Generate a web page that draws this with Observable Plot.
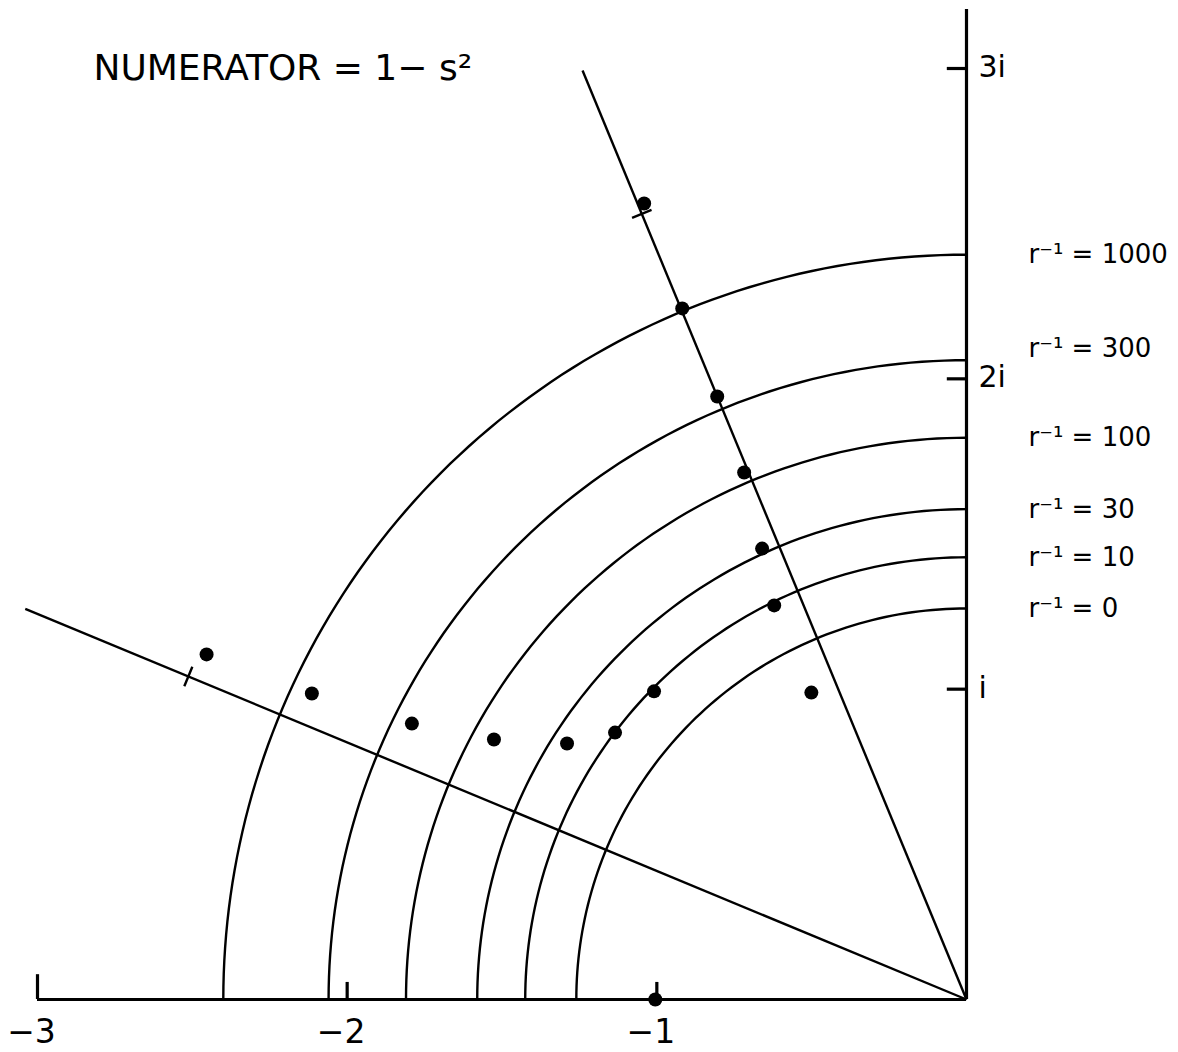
<!DOCTYPE html>
<html>
<head>
<meta charset="utf-8">
<script src="https://cdn.jsdelivr.net/npm/d3@7"></script>
<script src="https://cdn.jsdelivr.net/npm/@observablehq/plot@0.6"></script>
<style>
  body { margin: 0; background: #fff; }
</style>
</head>
<body>
<div id="chart"></div>
<script>
// Root locus in the s-plane for a numerator of 1 − s²

const title = "NUMERATOR = 1− s²";

// circles of constant r⁻¹ (radius in s-plane units)
const arcLabels = ["r⁻¹ = 0", "r⁻¹ = 10", "r⁻¹ = 30", "r⁻¹ = 100", "r⁻¹ = 300", "r⁻¹ = 1000"];
const arcRadii  = [1.26, 1.425, 1.58, 1.81, 2.06, 2.40];

// straight loci from the origin, angle in degrees from the positive real axis
const rayAngles  = [112.5, 157.5];
const rayLengths = [3.24, 3.29];
const rayMarkAt  = [2.74, 2.72];

// computed roots: real and imaginary parts
const rootRe = [-1.041, -0.918, -0.805, -0.718, -0.660, -0.621, -1.009, -1.135, -1.290, -1.526, -1.791, -2.114, -2.454, -0.501, -1.005];
const rootIm = [ 2.565,  2.227,  1.943,  1.698,  1.453,  1.270,  0.993,  0.860,  0.825,  0.838,  0.889,  0.986,  1.112,  0.989,  0.000];

// axis ticks
const xTicks = [-3, -2, -1];
const xTickLabels = ["−3", "−2", "−1"];
const yTicks = [1, 2, 3];
const yTickLabels = ["i", "2i", "3i"];

const rad = Math.PI / 180;

// quarter circles from the imaginary axis round to the negative real axis
const arcPoints = arcRadii.flatMap((r, k) =>
  d3.range(90, 180.5, 1).map(a => ({ x: r * Math.cos(a * rad), y: r * Math.sin(a * rad), k }))
);

const rays = rayAngles.map((a, k) => ({
  x2: rayLengths[k] * Math.cos(a * rad),
  y2: rayLengths[k] * Math.sin(a * rad)
}));

// short cross marks on each ray
const half = 0.034;
const rayMarks = rayAngles.map((a, k) => {
  const cx = rayMarkAt[k] * Math.cos(a * rad), cy = rayMarkAt[k] * Math.sin(a * rad);
  const px = -Math.sin(a * rad), py = Math.cos(a * rad);
  return { x1: cx - half * px, y1: cy - half * py, x2: cx + half * px, y2: cy + half * py };
});

const roots = rootRe.map((re, i) => ({ re, im: rootIm[i] }));
const arcs = arcLabels.map((label, i) => ({ label, r: arcRadii[i] }));

const ink = "#000";

const chart = Plot.plot({
  width: 1178,
  height: 1052,
  marginLeft: 37,
  marginRight: 212,
  marginTop: 68,
  marginBottom: 53,
  x: { domain: [-3, 0], axis: null },
  y: { domain: [0, 3], axis: null },
  style: { fontFamily: "DejaVu Sans", background: "#fff", color: ink, overflow: "visible" },
  marks: [
    // constant-r⁻¹ circles
    Plot.line(arcPoints, { x: "x", y: "y", z: "k", stroke: ink, strokeWidth: 2.4, curve: "linear" }),
    // radial loci
    Plot.link(rays, { x1: 0, y1: 0, x2: "x2", y2: "y2", stroke: ink, strokeWidth: 2.4 }),
    Plot.link(rayMarks, { x1: "x1", y1: "y1", x2: "x2", y2: "y2", stroke: ink, strokeWidth: 2.4 }),
    // axes
    Plot.ruleY([0], { x1: -3, x2: 0, stroke: ink, strokeWidth: 3.2 }),
    Plot.ruleX([0], { y1: 0, y2: 3.19, stroke: ink, strokeWidth: 3.2 }),
    Plot.ruleX(xTicks.slice(1), { y1: 0, y2: 0.055, stroke: ink, strokeWidth: 3.2 }),
    Plot.ruleX(xTicks.slice(0, 1), { y1: 0, y2: 0.08, stroke: ink, strokeWidth: 3.2 }),
    Plot.ruleY(yTicks, { x1: -0.062, x2: 0, stroke: ink, strokeWidth: 3.2 }),
    Plot.text(xTicks, { x: d => d, y: 0, text: (d, i) => xTickLabels[i], dy: 33, dx: -6, fontSize: 33, lineAnchor: "middle", fill: ink }),
    Plot.text(yTicks, { x: 0, y: d => d, text: (d, i) => yTickLabels[i], dx: 12, dy: -1, textAnchor: "start", lineAnchor: "middle", fontSize: 30, fill: ink }),
    // roots
    Plot.dot(roots, { x: "re", y: "im", r: 7, fill: ink, stroke: "none" }),
    // circle labels beside the imaginary axis
    Plot.text(arcs.filter(d => d.label !== "r⁻¹ = 300"), { x: 0, y: "r", text: "label", dx: 62, textAnchor: "start", lineAnchor: "middle", fontSize: 26, fill: ink }),
    Plot.text(arcs.filter(d => d.label === "r⁻¹ = 300"), { x: 0, y: "r", text: "label", dx: 62, dy: -12, textAnchor: "start", lineAnchor: "middle", fontSize: 26, fill: ink }),
    // title
    Plot.text([title], { frameAnchor: "top-left", dx: 56, dy: 0, text: d => d, textAnchor: "start", lineAnchor: "middle", fontSize: 36, fill: ink })
  ]
});

document.getElementById("chart").appendChild(chart);
</script>
</body>
</html>
